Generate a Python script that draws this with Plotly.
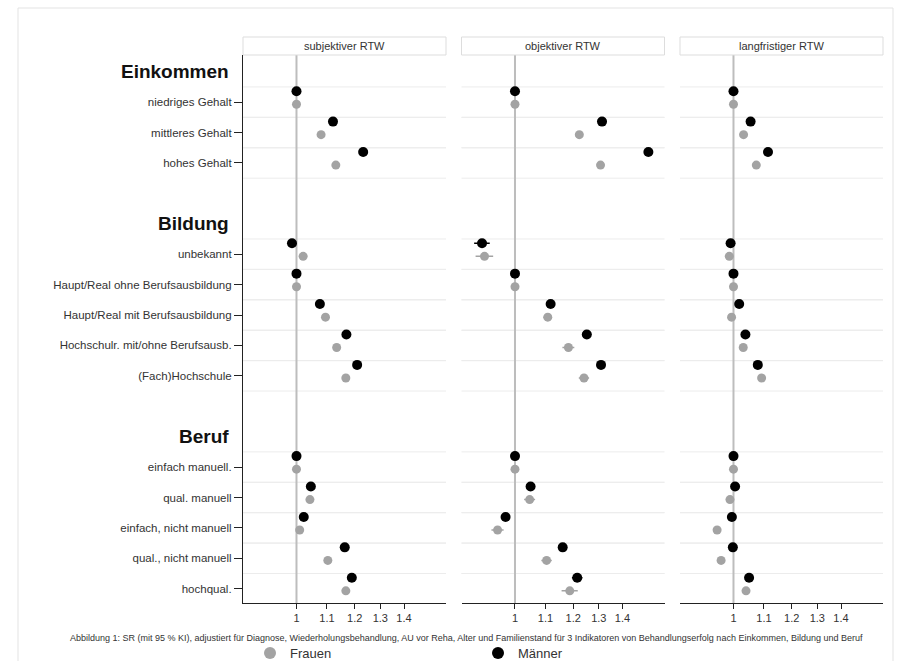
import plotly.graph_objects as go

# ---------------- data ----------------
panel_titles = ["subjektiver RTW", "objektiver RTW", "langfristiger RTW"]

group_names = ["Einkommen", "Bildung", "Beruf"]
group_items = [
    ["niedriges Gehalt", "mittleres Gehalt", "hohes Gehalt"],
    ["unbekannt", "Haupt/Real ohne Berufsausbildung", "Haupt/Real mit Berufsausbildung",
     "Hochschulr. mit/ohne Berufsausb.", "(Fach)Hochschule"],
    ["einfach manuell.", "qual. manuell", "einfach, nicht manuell", "qual., nicht manuell", "hochqual."],
]

# Männer (black) estimates per panel, order as categories above
maenner_subj = [1.00, 1.121, 1.232, 0.986, 1.00, 1.076, 1.169, 1.209, 1.00, 1.046, 1.023, 1.163, 1.189]
maenner_obj  = [1.00, 1.313, 1.518, 0.902, 1.00, 1.118, 1.252, 1.309, 1.00, 1.050, 0.971, 1.161, 1.215]
maenner_lang = [1.00, 1.055, 1.114, 0.991, 1.00, 1.018, 1.038, 1.079, 1.00, 1.005, 0.995, 0.998, 1.050]

# Frauen (gray) estimates per panel
frauen_subj = [1.00, 1.080, 1.131, 1.021, 1.00, 1.095, 1.134, 1.167, 1.00, 1.043, 1.010, 1.103, 1.167]
frauen_obj  = [1.00, 1.223, 1.307, 0.909, 1.00, 1.108, 1.182, 1.241, 1.00, 1.047, 0.947, 1.104, 1.187]
frauen_lang = [1.00, 1.032, 1.074, 0.987, 1.00, 0.994, 1.031, 1.092, 1.00, 0.989, 0.950, 0.962, 1.040]

# 95% CI half-widths (estimated, mostly hidden under markers)
maenner_ci_subj = [0.0, 0.010, 0.012, 0.008, 0.0, 0.008, 0.010, 0.010, 0.0, 0.008, 0.008, 0.010, 0.012]
maenner_ci_obj  = [0.0, 0.012, 0.015, 0.022, 0.0, 0.010, 0.018, 0.015, 0.0, 0.010, 0.012, 0.012, 0.020]
maenner_ci_lang = [0.0, 0.008, 0.010, 0.008, 0.0, 0.008, 0.010, 0.010, 0.0, 0.008, 0.008, 0.008, 0.010]
frauen_ci_subj  = [0.0, 0.010, 0.012, 0.010, 0.0, 0.010, 0.012, 0.012, 0.0, 0.010, 0.010, 0.012, 0.014]
frauen_ci_obj   = [0.0, 0.012, 0.014, 0.025, 0.0, 0.015, 0.022, 0.020, 0.0, 0.018, 0.018, 0.018, 0.030]
frauen_ci_lang  = [0.0, 0.008, 0.010, 0.012, 0.0, 0.008, 0.012, 0.010, 0.0, 0.008, 0.010, 0.010, 0.012]

x_tickvals = [1, 1.1, 1.2, 1.3, 1.4]
x_ticktext = ["1", "1.1", "1.2", "1.3", "1.4"]

legend_names = ["Frauen", "Männer"]
footer = ("Abbildung 1: SR (mit 95 % KI), adjustiert für Diagnose, Wiederholungsbehandlung, AU vor Reha, "
          "Alter und Familienstand für 3 Indikatoren von Behandlungserfolg nach Einkommen, Bildung und Beruf")

# ---------------- layout helpers ----------------
W, H = 903, 661
ML, MR, MT, MB = 243, 20, 55, 58
PW = W - ML - MR
PH = H - MT - MB
panel_px = [(0, 203), (218.5, 421.5), (437, 640)]
domains = [[a / PW, b / PW] for a, b in panel_px]

# row positions: heading, items, blank row
head_pos, cat_pos, cat_labels = [], [], []
pos = -1
for g, items in zip(group_names, group_items):
    head_pos.append(pos)
    for k, it in enumerate(items):
        cat_pos.append(pos + 1 + k)
        cat_labels.append(it)
    pos = pos + len(items) + 2

M_OFF, F_OFF = -0.36, 0.07
GRAY = "#a3a3a3"
FONT = "Liberation Sans, Arial, sans-serif"

m_sets = [maenner_subj, maenner_obj, maenner_lang]
f_sets = [frauen_subj, frauen_obj, frauen_lang]
m_cis = [maenner_ci_subj, maenner_ci_obj, maenner_ci_lang]
f_cis = [frauen_ci_subj, frauen_ci_obj, frauen_ci_lang]

fig = go.Figure()
shapes, annotations = [], []

for p in range(3):
    xa = "x" if p == 0 else f"x{p+1}"
    fig.add_trace(go.Scatter(
        x=f_sets[p], y=[c + F_OFF for c in cat_pos], mode="markers",
        marker=dict(color=GRAY, size=9),
        error_x=dict(type="data", array=f_cis[p], color=GRAY, thickness=1.5, width=0),
        name=legend_names[0], showlegend=(p == 0), legendrank=1,
        xaxis=xa, yaxis="y"))
    fig.add_trace(go.Scatter(
        x=m_sets[p], y=[c + M_OFF for c in cat_pos], mode="markers",
        marker=dict(color="#000000", size=10),
        error_x=dict(type="data", array=m_cis[p], color="#000000", thickness=1.5, width=0),
        name=legend_names[1], showlegend=(p == 0), legendrank=2,
        xaxis=xa, yaxis="y"))

    axkey = "xaxis" if p == 0 else f"xaxis{p+1}"
    fig.layout[axkey] = dict(
        domain=domains[p], type="log", range=[-0.0727, 0.2032], anchor="y",
        tickvals=x_tickvals, ticktext=x_ticktext, ticks="outside", ticklen=5,
        tickcolor="#222", showline=True, linecolor="#222", linewidth=1.2,
        showgrid=False, zeroline=False, tickfont=dict(size=11, color="#333", family=FONT))

    dref = f"{xa} domain"
    # horizontal grid lines between categories
    for c in cat_pos:
        for yy in (c - 0.5, c + 0.5):
            if yy < cat_pos[-1] + 0.4:
                shapes.append(dict(type="line", xref=dref, x0=0, x1=1, yref="y", y0=yy, y1=yy,
                                   line=dict(color="#ececec", width=1), layer="below"))
    # reference line at 1
    shapes.append(dict(type="line", xref=xa, x0=1, x1=1, yref="paper", y0=0, y1=1,
                       line=dict(color="#bdbdbd", width=2), layer="below"))
    # header strip
    shapes.append(dict(type="rect", xref=dref, x0=0, x1=1, yref="paper", y0=1, y1=1 + 18 / PH,
                       line=dict(color="#dddddd", width=1), fillcolor="white"))
    annotations.append(dict(text=panel_titles[p], xref=dref, x=0.5, yref="paper", y=1 + 9 / PH,
                            showarrow=False, xanchor="center", yanchor="middle",
                            font=dict(size=11, color="#333", family=FONT)))

# group headings
for g, hp in zip(group_names, head_pos):
    annotations.append(dict(text=f"<b>{g}</b>", xref="x domain", x=0, xshift=-12, xanchor="right",
                            yref="y", y=hp, yanchor="middle", showarrow=False,
                            font=dict(size=19, color="#111", family=FONT)))

# footer
annotations.append(dict(text=footer, xref="paper", x=(466 - ML) / PW, xanchor="center",
                        yref="paper", y=-(638 - (MT + PH)) / PH, yanchor="middle", showarrow=False,
                        font=dict(size=9, color="#333", family=FONT)))

# outer frame
shapes.append(dict(type="rect", xref="paper", yref="paper",
                   x0=(18 - ML) / PW, x1=(893 - ML) / PW, y0=-(H + 5 - MT - PH) / PH, y1=1 + (MT - 8) / PH,
                   line=dict(color="#e3e3e3", width=1), fillcolor="rgba(0,0,0,0)", layer="below"))

fig.update_layout(
    width=W, height=H, margin=dict(l=ML, r=MR, t=MT, b=MB, autoexpand=False),
    paper_bgcolor="white", plot_bgcolor="white",
    font=dict(family=FONT, color="#333"),
    yaxis=dict(domain=[0, 1], anchor="x", range=[cat_pos[-1] + 0.47, head_pos[0] - 0.55],
               tickvals=cat_pos, ticktext=cat_labels, ticks="outside", ticklen=8, tickcolor="#222",
               showline=True, linecolor="#222", linewidth=1.2, showgrid=False, zeroline=False,
               tickfont=dict(size=11.5, color="#333", family=FONT)),
    shapes=shapes, annotations=annotations,
    showlegend=True,
    legend=dict(orientation="h", xref="container", x=250 / W, xanchor="left",
                yref="container", y=1 - 653 / H, yanchor="middle",
                entrywidth=183, entrywidthmode="pixels",
                font=dict(size=13, color="#333", family=FONT), itemsizing="constant",
                bgcolor="rgba(0,0,0,0)"),
)

fig.write_html("out.html")
